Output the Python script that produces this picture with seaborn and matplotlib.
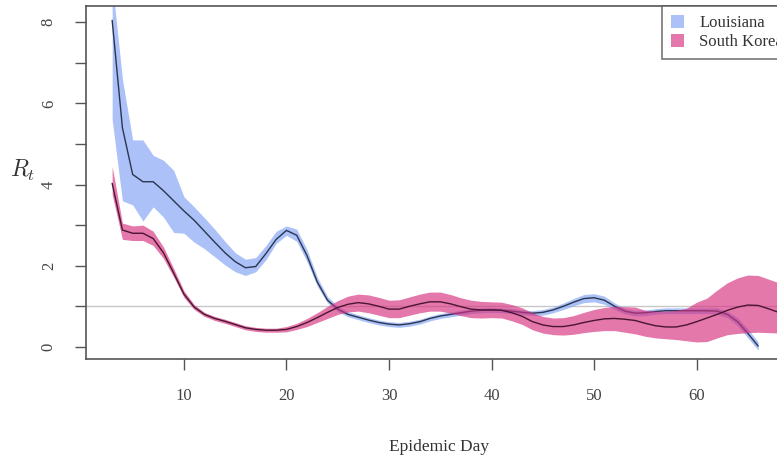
import numpy as np
import pandas as pd
import seaborn as sns
import matplotlib.pyplot as plt
from matplotlib.patches import Patch

# Rt estimates (median + credible band)
la_days = list(range(3, 67))
la_mid = [8.05, 5.40, 4.25, 4.07, 4.07, 3.85, 3.60, 3.35, 3.12, 2.85, 2.58, 2.32, 2.10, 1.95, 1.98, 2.30,
          2.65, 2.87, 2.75, 2.25, 1.60, 1.15, 0.93, 0.80, 0.73, 0.66, 0.60, 0.56, 0.54, 0.57, 0.62, 0.70,
          0.76, 0.80, 0.84, 0.88, 0.90, 0.91, 0.90, 0.88, 0.85, 0.83, 0.85, 0.91, 1.00, 1.10, 1.19, 1.21,
          1.15, 1.00, 0.88, 0.83, 0.84, 0.87, 0.89, 0.89, 0.89, 0.89, 0.89, 0.88, 0.80, 0.62, 0.33, 0.02]
la_lo = [5.60, 3.60, 3.50, 3.10, 3.45, 3.20, 2.82, 2.80, 2.58, 2.42, 2.22, 2.02, 1.85, 1.76, 1.85, 2.15,
         2.55, 2.75, 2.60, 2.10, 1.50, 1.08, 0.87, 0.74, 0.67, 0.60, 0.54, 0.50, 0.48, 0.51, 0.56, 0.64,
         0.70, 0.74, 0.78, 0.82, 0.84, 0.85, 0.84, 0.82, 0.79, 0.77, 0.78, 0.84, 0.92, 1.01, 1.09, 1.11,
         1.05, 0.92, 0.81, 0.76, 0.77, 0.80, 0.82, 0.82, 0.82, 0.82, 0.82, 0.80, 0.72, 0.52, 0.22, -0.08]
la_hi = [9.00, 6.60, 5.10, 5.10, 4.72, 4.60, 4.35, 3.70, 3.45, 3.18, 2.90, 2.60, 2.32, 2.16, 2.20, 2.50,
         2.85, 2.98, 2.90, 2.40, 1.72, 1.24, 1.00, 0.87, 0.79, 0.72, 0.66, 0.62, 0.60, 0.63, 0.68, 0.76,
         0.82, 0.86, 0.90, 0.94, 0.96, 0.97, 0.96, 0.94, 0.91, 0.89, 0.92, 0.98, 1.08, 1.19, 1.29, 1.31,
         1.25, 1.08, 0.95, 0.90, 0.91, 0.94, 0.96, 0.96, 0.96, 0.96, 0.96, 0.96, 0.88, 0.72, 0.44, 0.12]

sk_days = list(range(3, 69))
sk_mid = [4.03, 2.88, 2.80, 2.80, 2.67, 2.32, 1.82, 1.30, 0.98, 0.80, 0.70, 0.63, 0.55, 0.47, 0.43, 0.41,
          0.41, 0.43, 0.50, 0.60, 0.72, 0.85, 0.97, 1.05, 1.09, 1.06, 1.00, 0.93, 0.93, 1.00, 1.06, 1.11,
          1.11, 1.06, 0.99, 0.93, 0.91, 0.91, 0.90, 0.84, 0.75, 0.62, 0.54, 0.50, 0.50, 0.54, 0.60, 0.65,
          0.69, 0.70, 0.68, 0.65, 0.58, 0.52, 0.49, 0.49, 0.54, 0.62, 0.71, 0.80, 0.90, 0.98, 1.03, 1.02,
          0.94, 0.85]
sk_lo = [3.75, 2.65, 2.62, 2.62, 2.50, 2.18, 1.72, 1.22, 0.92, 0.75, 0.65, 0.58, 0.50, 0.42, 0.38, 0.36,
         0.36, 0.37, 0.43, 0.50, 0.60, 0.70, 0.80, 0.86, 0.88, 0.84, 0.78, 0.72, 0.72, 0.78, 0.84, 0.88,
         0.88, 0.83, 0.77, 0.72, 0.71, 0.72, 0.71, 0.64, 0.55, 0.42, 0.34, 0.30, 0.29, 0.31, 0.35, 0.38,
         0.40, 0.40, 0.36, 0.32, 0.26, 0.22, 0.20, 0.18, 0.15, 0.12, 0.13, 0.22, 0.30, 0.33, 0.35, 0.36,
         0.35, 0.34]
sk_hi = [4.45, 3.05, 2.98, 3.00, 2.85, 2.46, 1.93, 1.38, 1.04, 0.85, 0.75, 0.68, 0.60, 0.52, 0.48, 0.46,
         0.46, 0.50, 0.58, 0.70, 0.84, 1.00, 1.14, 1.25, 1.30, 1.28, 1.22, 1.15, 1.16, 1.23, 1.30, 1.35,
         1.35, 1.29, 1.21, 1.15, 1.12, 1.11, 1.10, 1.04, 0.96, 0.84, 0.75, 0.71, 0.72, 0.77, 0.85, 0.92,
         0.97, 1.00, 0.99, 0.98, 0.90, 0.88, 0.88, 0.90, 0.95, 1.10, 1.20, 1.40, 1.58, 1.70, 1.77, 1.76,
         1.67, 1.58]

blue = '#8fadf5'
pink = '#d6307f'

sns.set_style('ticks')
plt.rcParams['font.family'] = ['Liberation Serif', 'DejaVu Serif']
plt.rcParams['mathtext.fontset'] = 'cm'

df_la = pd.DataFrame({'day': la_days, 'rt': la_mid})
df_sk = pd.DataFrame({'day': sk_days, 'rt': sk_mid})

fig = plt.figure(figsize=(7.77, 4.62), dpi=100)
# axes runs past the right edge of the figure (the original is cropped there)
ax = fig.add_axes([0.1107, 0.2229, 0.9086, 0.764])

ax.axhline(1, color='#c8c8c8', lw=1, zorder=1)
ax.fill_between(la_days, la_lo, la_hi, color=blue, alpha=0.75, lw=0, zorder=2)
sns.lineplot(data=df_la, x='day', y='rt', ax=ax, color='#2a3550', lw=1, zorder=3)
ax.fill_between(sk_days, sk_lo, sk_hi, color=pink, alpha=0.65, lw=0, zorder=4)
sns.lineplot(data=df_sk, x='day', y='rt', ax=ax, color='#4a1530', lw=1, zorder=5)

ax.set_xlim(0.45, 69.3)
ax.set_ylim(-0.3, 8.4)
ax.set_xticks([10, 20, 30, 40, 50, 60])
ax.set_yticks(range(9))
ax.set_yticklabels(['0', '', '2', '', '4', '', '6', '', '8'], rotation=90, va='center')
ax.tick_params(axis='both', length=8, width=1, color='#555555', labelcolor='#444444', labelsize=12)
ax.tick_params(axis='y', pad=13)
ax.tick_params(axis='x', pad=13)
for s in ax.spines.values():
    s.set_color('#555555')
    s.set_linewidth(1.2)

ax.set_xlabel('Epidemic Day', fontsize=12.5, color='#333333', labelpad=25)
ax.set_ylabel('$R_t$', fontsize=17, rotation=0, color='#333333')
ax.yaxis.set_label_coords(-0.09, 0.5)

handles = [Patch(facecolor=blue, alpha=0.75, edgecolor='none', label='Louisiana'),
           Patch(facecolor=pink, alpha=0.65, edgecolor='none', label='South Korea')]
leg = ax.legend(handles=handles, loc='upper right', bbox_to_anchor=(1, 1), borderaxespad=0,
                fontsize=12, frameon=True, fancybox=False, handlelength=0.8, handleheight=0.8,
                labelspacing=0.15, handletextpad=0.9, borderpad=0.55)
leg.get_frame().set_edgecolor('#555555')
leg.get_frame().set_linewidth(1.2)
for t in leg.get_texts():
    t.set_color('#333333')

fig.savefig('out.png', dpi=100)
